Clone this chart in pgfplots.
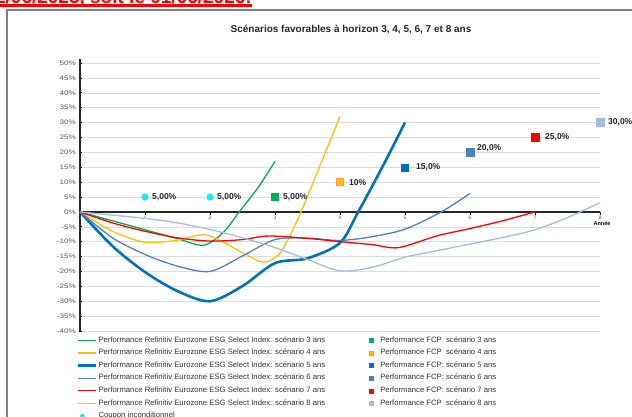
\documentclass[border=0pt]{standalone}
\usepackage{pgfplots}
\pgfplotsset{compat=1.18}
\usepackage{fontspec}
\setmainfont{Liberation Sans}
\newfontfamily\tickfont[FakeStretch=1.25]{Liberation Sans}
\definecolor{cGreen}{HTML}{00B050}
\definecolor{cYellow}{HTML}{FFC000}
\definecolor{cOrange}{HTML}{F79646}
\definecolor{cBlue}{HTML}{0070C0}
\definecolor{cMed}{HTML}{4F81BD}
\definecolor{cRed}{HTML}{FF0000}
\definecolor{cLight}{HTML}{A3BDDF}
\definecolor{cCyan}{HTML}{19E8F5}
\definecolor{cGrid}{HTML}{DCDCDC}
\definecolor{cTick}{HTML}{595959}
\definecolor{cLab}{HTML}{262626}
\pgfplotsset{
  mylinelegend/.style={legend image code/.code={\draw[##1] (0pt,0pt) -- (18pt,0pt);}},
  mymarklegend/.style={legend image code/.code={\path[draw=none,fill=none] (0pt,-0.1pt) rectangle (12pt,0.1pt); \draw[##1, mark size=2pt] plot coordinates {(4pt,0pt)};}},
  mylab/.style={nodes near coords={#1}, nodes near coords align=horizontal,
    every node near coord/.append style={font=\bfseries\fontsize{8.5}{9}\selectfont, text=cLab, inner sep=0pt}},
}
\begin{document}
\begin{tikzpicture}[x=1pt,y=1pt]
\path[use as bounding box] (0,0) rectangle (632,416);
\clip (0,0) rectangle (632,416);
\fill[white] (0,0) rectangle (632,416);
\node[anchor=base east, text=red, font=\bfseries\fontsize{19}{20}\selectfont, inner sep=0pt] at (252,412.6) {2/06/2025, soit le 01/06/2026:};
\fill[red] (-5,409.4) rectangle (252,411.7);
\draw[gray, line width=1.2pt] (7,-10) -- (7,406) -- (660,406);
\node[font=\bfseries\fontsize{10}{12}\selectfont, text=cLab] at (351,386) {Scénarios favorables à horizon 3, 4, 5, 6, 7 et 8 ans};
\begin{axis}[
  at={(80pt,85pt)}, anchor=south west,
  scale only axis, width=520pt, height=268pt,
  xmin=0, xmax=8, ymin=-40, ymax=50,
  axis x line*=middle, axis y line*=left,
  hide obscured x ticks=false,
  x axis line style={line width=1.6pt, black!85},
  y axis line style={line width=1.6pt, black!85, shorten >=-4pt},
  xtick={0,...,8}, ytick={-40,-35,...,50},
  ymajorgrids, grid style={cGrid, line width=0.5pt},
  major tick length=3pt,
  tick style={black, line width=0.6pt},
  xtick align=outside, ytick align=center,
  x tick label style={font=\fontsize{5}{5}\selectfont, text=cTick, inner sep=1pt},
  y tick label style={font=\tickfont\fontsize{6.5}{7}\selectfont, text=cTick, inner sep=2.5pt},
  /pgf/number format/assume math mode=true,
  yticklabel={\pgfmathprintnumber{\tick}\%},
  xlabel={Année},
  x label style={at={(axis description cs:1,0.4444)}, anchor=north, xshift=2pt, yshift=-6pt, font=\bfseries\fontsize{5.5}{5.5}\selectfont},
  clip=false,
  legend columns=2,
  legend cell align=left,
  legend style={draw=none, fill=none, at={(axis description cs:-0.012,-0.011)}, anchor=north west,
    font=\fontsize{7.7}{8}\selectfont, text=black!80,
    nodes={inner sep=1pt, text height=5pt, text depth=1.5pt},
    row sep=4.1pt, /tikz/column 2/.style={column sep=41pt}},
]
% scenario 3
\addplot[cGreen, line width=1.3pt, smooth, mylinelegend] coordinates {
 (0,0) (0.5,-3) (1,-6) (1.5,-9) (1.9,-11.2) (2.2,-7) (2.45,0) (2.75,8.5) (3,17)};
\addlegendentry{Performance Refinitiv Eurozone ESG Select Index: scénario 3 ans}
\addplot[only marks, mark=square*, mark size=3.5pt, color=cGreen, mymarklegend, mylab={5,00\%},
  every node near coord/.append style={xshift=8pt}] coordinates {(3,5)};
\addlegendentry{Performance FCP\ \ scénario 3 ans}
% scenario 4
\addplot[cYellow, line width=1.3pt, smooth, mylinelegend] coordinates {
 (0,0) (0.5,-6.5) (1,-10.2) (1.5,-9.5) (1.95,-7.8) (2.5,-13.7) (2.82,-16.9) (3.05,-14.5) (3.2,-9.3) (3.4,0) (3.7,16) (4,32)};
\addlegendentry{Performance Refinitiv Eurozone ESG Select Index: scénario 4 ans}
\addplot[only marks, mark=square*, mark size=3.5pt, draw=cOrange, fill=cYellow, mymarklegend, mylab={10\%},
  every node near coord/.append style={xshift=9pt}] coordinates {(4,10)};
\addlegendentry{Performance FCP\ \ scénario 4 ans}
% scenario 5
\addplot[cBlue, line width=2.6pt, smooth, mylinelegend] coordinates {
 (0,0) (0.5,-11.5) (1,-20.2) (1.5,-26.6) (2,-30) (2.5,-24.9) (3,-17.2) (3.5,-15.6) (4,-10.4) (4.28,0) (4.65,15) (5,30)};
\addlegendentry{Performance Refinitiv Eurozone ESG Select Index: scénario 5 ans}
\addplot[only marks, mark=square*, mark size=3.5pt, color=cBlue, mymarklegend, mylab={15,0\%},
  every node near coord/.append style={xshift=11pt}] coordinates {(5,15)};
\addlegendentry{Performance FCP: scénario 5 ans}
% scenario 6
\addplot[cMed, line width=1.3pt, smooth, mylinelegend] coordinates {
 (0,0) (0.5,-8.7) (1,-14.3) (1.5,-18.2) (2,-20) (2.5,-14.8) (3,-9.3) (3.5,-8.8) (4,-9.6) (4.5,-8.3) (5,-5.8) (5.56,0) (6,6.2)};
\addlegendentry{Performance Refinitiv Eurozone ESG Select Index: scénario 6 ans}
\addplot[only marks, mark=square*, mark size=4pt, color=cMed, mymarklegend, mylab={20,0\%},
  every node near coord/.append style={xshift=7pt, yshift=4pt}] coordinates {(6,20)};
\addlegendentry{Performance FCP: scénario 6 ans}
% scenario 7
\addplot[cRed, line width=1.3pt, smooth, mylinelegend] coordinates {
 (0,0) (0.5,-3.7) (1,-6.5) (1.5,-8.7) (2,-9.8) (2.5,-9.3) (2.9,-8.1) (3.5,-8.9) (4,-10) (4.5,-11) (4.9,-12) (5.5,-8) (6,-5.6) (6.5,-3) (7,0)};
\addlegendentry{Performance Refinitiv Eurozone ESG Select Index: scénario 7 ans}
\addplot[only marks, mark=square*, mark size=4pt, color=cRed, mymarklegend, mylab={25,0\%},
  every node near coord/.append style={xshift=10pt}] coordinates {(7,25)};
\addlegendentry{Performance FCP: scénario 7 ans}
% scenario 8
\addplot[cLight, line width=1.3pt, smooth, mylinelegend] coordinates {
 (0,0) (0.5,-1.1) (1,-2.2) (1.5,-3.7) (2,-5.9) (2.5,-8.7) (3,-12) (3.5,-16) (4,-19.8) (4.5,-18.6) (5,-15.2) (5.5,-13) (6,-10.8) (6.5,-8.6) (7,-6) (7.5,-1.9) (8,3.1)};
\addlegendentry{Performance Refinitiv Eurozone ESG Select Index: scénario 8 ans}
\addplot[only marks, mark=square*, mark size=4pt, color=cLight, mymarklegend, mylab={30,0\%},
  every node near coord/.append style={xshift=8pt}] coordinates {(8,30)};
\addlegendentry{Performance FCP\ \ scénario 8 ans}
% coupon
\addplot[only marks, mark=*, mark size=3.3pt, color=cCyan, mymarklegend, mylab={5,00\%},
  every node near coord/.append style={xshift=7pt}] coordinates {(1,5) (2,5)};
\addlegendentry{Coupon inconditionnel}
\end{axis}
\end{tikzpicture}
\end{document}
